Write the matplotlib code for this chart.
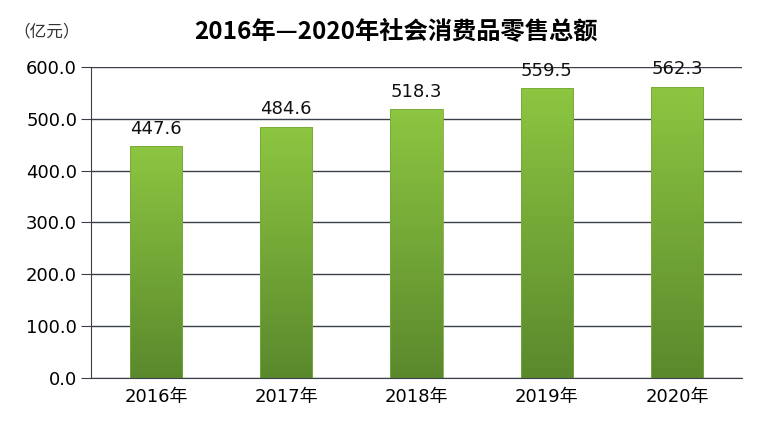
import matplotlib.pyplot as plt
import numpy as np
from matplotlib.colors import LinearSegmentedColormap

plt.rcParams['font.family'] = ['DejaVu Sans', 'Noto Sans CJK SC']

years = ['2016年', '2017年', '2018年', '2019年', '2020年']
sales = [447.6, 484.6, 518.3, 559.5, 562.3]
yticks = [0, 100, 200, 300, 400, 500, 600]

fig = plt.figure(figsize=(7.58, 4.32), dpi=100)
ax = fig.add_axes([0.120, 0.125, 0.859, 0.72])

x = np.arange(len(years))
bars = ax.bar(x, sales, width=0.4, color='none', edgecolor='#79a83a', lw=0.6, zorder=3)

# vertical gradient in each bar
cmap = LinearSegmentedColormap.from_list('g', ['#5a892d', '#8dc641'])
grad = np.linspace(0, 1, 256).reshape(-1, 1)
for b in bars:
    x0, w, h = b.get_x(), b.get_width(), b.get_height()
    im = ax.imshow(grad, cmap=cmap, origin='lower', aspect='auto',
                   extent=[x0, x0 + w, 0, h], zorder=2)
    im.set_clip_path(b)

for xi, v in zip(x, sales):
    ax.text(xi, v + 16, f'{v:.1f}', ha='center', va='bottom', fontsize=13,
            color='#111111')

ax.set_xlim(-0.5, len(years) - 0.5)
ax.set_ylim(0, 600)
ax.set_yticks(yticks)
ax.set_yticklabels([f'{t:.1f}' for t in yticks], fontsize=13)
ax.set_xticks(x)
ax.set_xticklabels(years, fontsize=13)
ax.yaxis.grid(True, color='#3a3f48', lw=1.0)
ax.set_axisbelow(True)
ax.tick_params(axis='y', length=7, color='#3a3f48', pad=3)
ax.tick_params(axis='x', length=0, pad=7)
for s in ['top', 'right']:
    ax.spines[s].set_visible(False)
ax.spines['left'].set_color('#3a3f48')
ax.spines['bottom'].set_color('#3a3f48')

fig.text(0.523, 0.925, '2016年—2020年社会消费品零售总额', ha='center', va='center',
         fontsize=17.5, fontweight='bold', family=['Noto Sans CJK SC', 'DejaVu Sans'])
fig.text(0.018, 0.925, '（亿元）', ha='left', va='center', fontsize=12, color='#333333',
         family=['Noto Sans CJK SC', 'DejaVu Sans'])

fig.savefig('out.png', dpi=100)
